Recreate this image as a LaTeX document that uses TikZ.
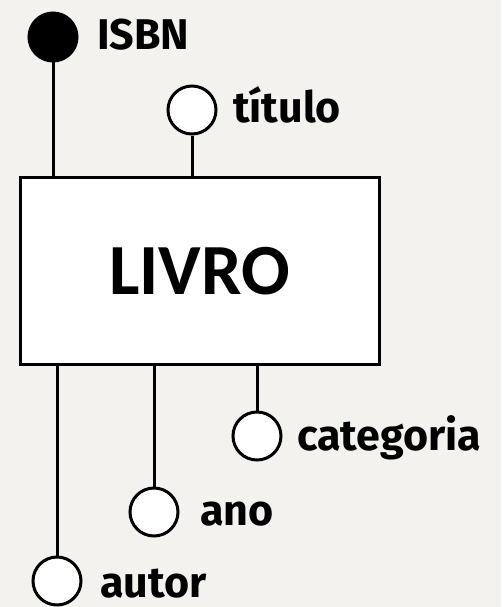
\documentclass[tikz,border=0pt]{standalone}
\usepackage{fontspec}
\setmainfont{Fira Sans}
\newfontfamily\entfont{Carlito}
\definecolor{paper}{HTML}{F4F2EE}
\begin{document}
\begin{tikzpicture}[x=1pt,y=-1pt,
  attr/.style={circle,draw=black,line width=3pt,fill=white,minimum size=48pt,inner sep=0pt},
  key/.style={attr,fill=black},
  lbl/.style={anchor=base west,inner sep=0pt,font=\fontsize{43}{43}\selectfont\bfseries},
  ent/.style={draw=black,line width=3pt,fill=white,minimum width=359pt,minimum height=187pt,inner sep=0pt,font=\entfont\fontsize{72}{72}\selectfont\bfseries},
  conn/.style={line width=3pt}]
\fill[paper] (0,0) rectangle (501,607);
\useasboundingbox (0,0) rectangle (501,607);
\node[ent] (livro) at (199.5,271) {LIVRO};
\node[key] (isbn) at (53,37) {};
\node[attr] (titulo) at (192,110) {};
\node[attr] (categoria) at (257,436) {};
\node[attr] (ano) at (154,512) {};
\node[attr] (autor) at (57,581) {};
\node[lbl] (tisbn) at (97,50) {ISBN};
\node[lbl] (ttitulo) at (233,123) {título};
\node[lbl] (tcategoria) at (297,450) {categoria};
\node[lbl] (tano) at (200,525) {ano};
\node[lbl] (tautor) at (100,597) {autor};
\draw[conn] (isbn) -- (isbn |- livro.north);
\draw[conn] (titulo) -- (titulo |- livro.north);
\draw[conn] (categoria) -- (categoria |- livro.south);
\draw[conn] (ano) -- (ano |- livro.south);
\draw[conn] (autor) -- (autor |- livro.south);
\end{tikzpicture}
\end{document}
